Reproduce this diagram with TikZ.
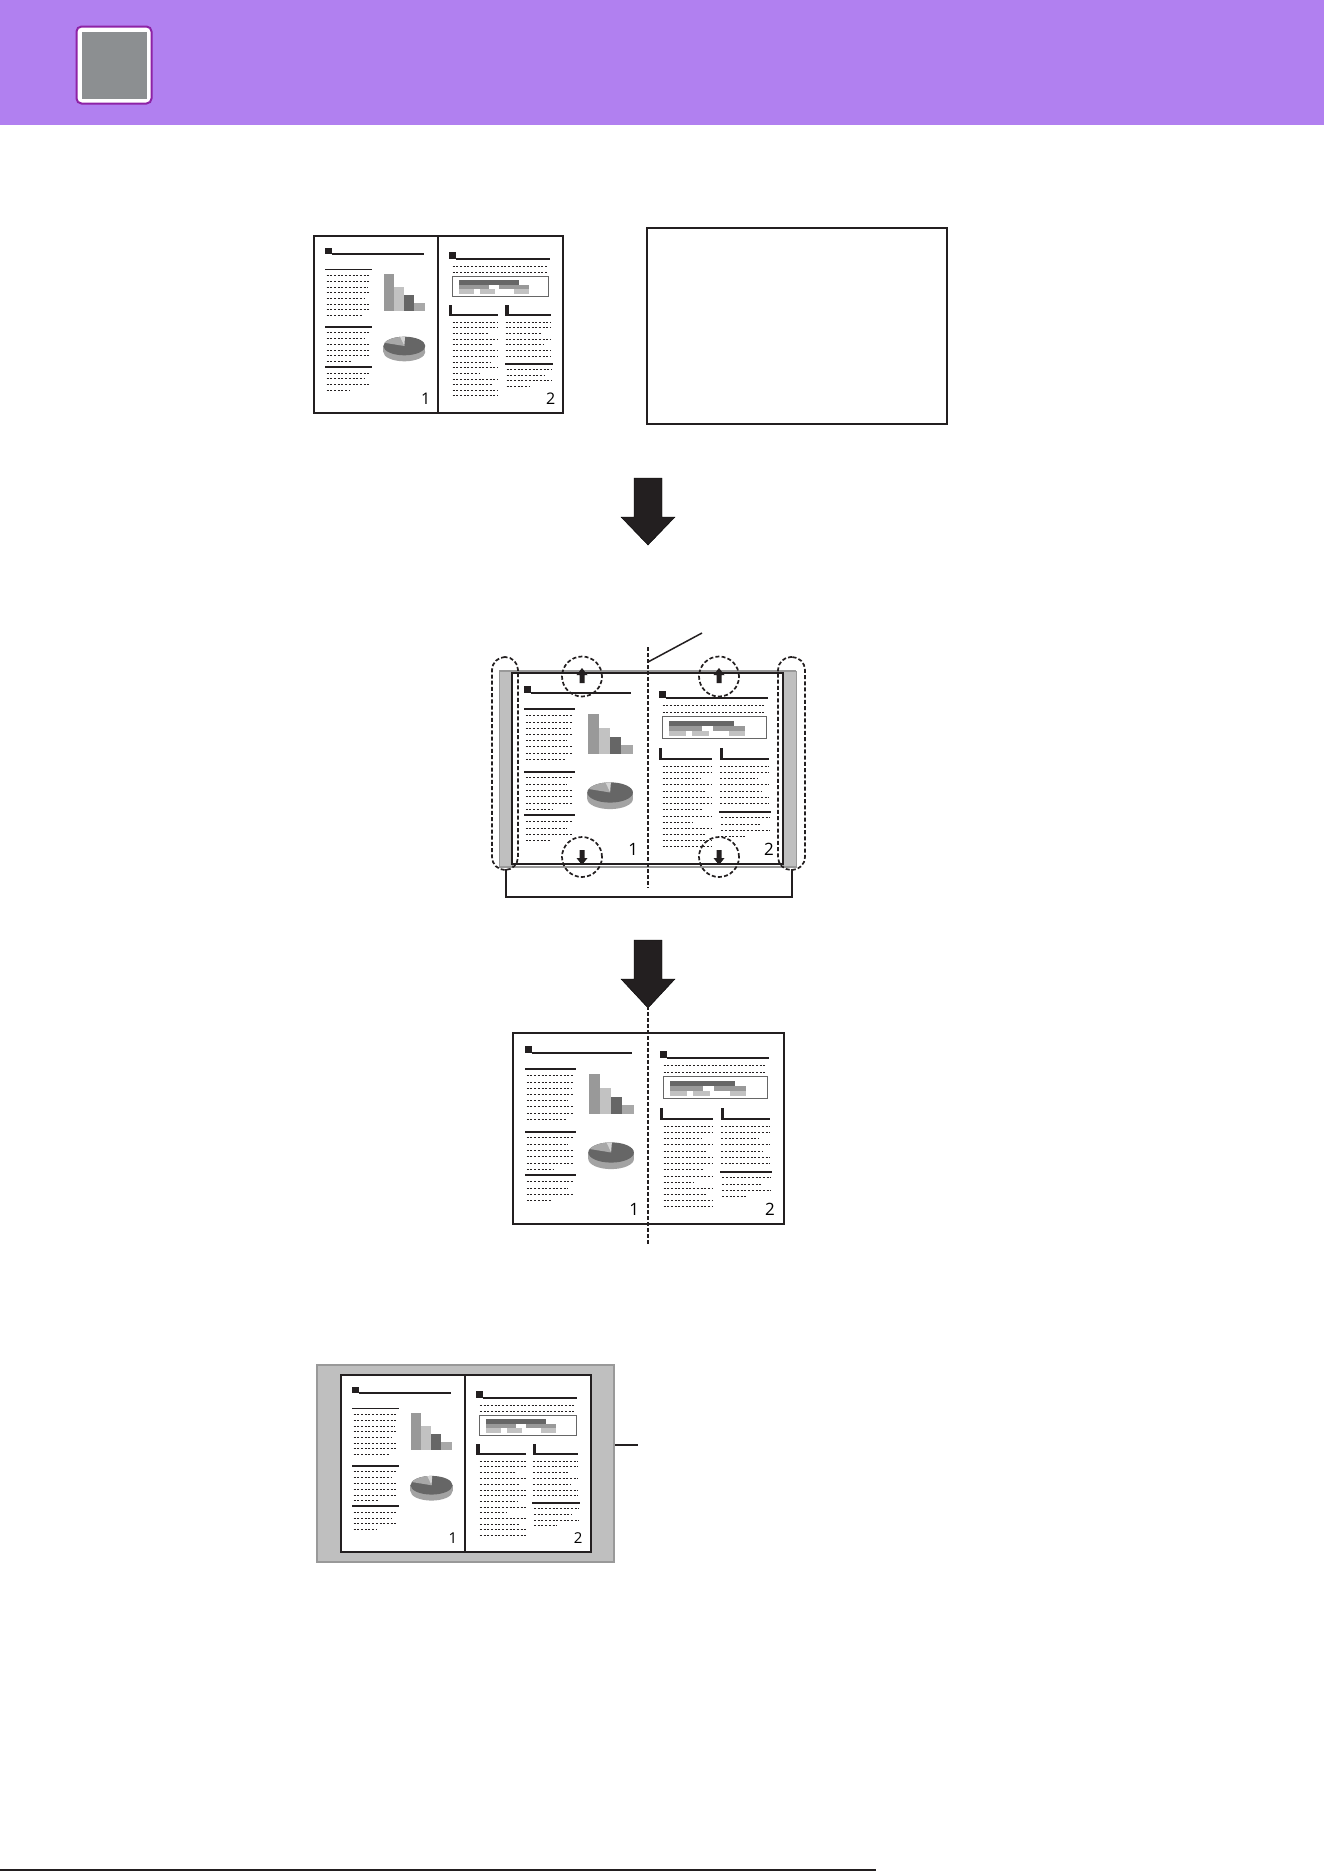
\documentclass[tikz,border=0pt]{standalone}
\usepackage{fontspec}
\newfontfamily\numfont{Open Sans}
\definecolor{hdr}{HTML}{B180F0}
\definecolor{iconb}{HTML}{8E22A6}
\definecolor{icong}{HTML}{8C8F91}
\definecolor{ink}{HTML}{231F20}
\definecolor{barA}{HTML}{999999}
\definecolor{barB}{HTML}{C2C2C2}
\definecolor{barC}{HTML}{666666}
\definecolor{barD}{HTML}{A8A8A8}
\definecolor{pieside}{HTML}{A3A3A3}
\definecolor{shadegray}{HTML}{BFBFBF}
\definecolor{shadeline}{HTML}{999999}
\tikzset{
  dotline/.style={ink, line width=0.75pt, dash pattern=on 2pt off 1.7pt},
  frame/.style={draw=ink, line width=1.7pt},
  cutline/.style={ink, line width=2pt, dash pattern=on 3.5pt off 2.5pt},
  dcirc/.style={draw=ink, line width=1.7pt, dash pattern=on 4pt off 2.2pt},
  bigarrow/.style={fill=ink},
  lead/.style={ink, line width=1.5pt}
}
\newcommand{\spreadcontent}[1]{%
  % ---- left page
  \fill[ink] (33,35) rectangle (53,55);
  \fill[ink] (53,52) rectangle (330,57);
  \fill[ink] (33,98) rectangle (174,103);
  \fill[ink] (33,270) rectangle (174,275);
  \fill[ink] (33,390) rectangle (174,395);
  \foreach \yy/\xe in {117/166,135/166,153/163,170/166,187/153,204/166,221/166,238/148,
                       289/166,307/153,324/166,342/166,359/166,376/113,
                       411/166,428/153,445/166,462/106}
    \draw[dotline] (38,\yy) -- (\xe,\yy);
  \fill[barA] (210,114) rectangle (240,224);
  \fill[barB] (240,153) rectangle (270,224);
  \fill[barC] (270,177) rectangle (300,224);
  \fill[barD] (300,200) rectangle (333,224);
  \fill[pieside] (271,348) ellipse[x radius=63, y radius=28];
  \fill[pieside] (208,330) rectangle (334,348);
  \fill[barC] (271,330) ellipse[x radius=63, y radius=28];
  \fill[barD] (271,330) -- ++(200:63 and 28) arc[start angle=200,end angle=258,x radius=63,y radius=28] -- cycle;
  \fill[barB!70!white] (271,330) -- ++(258:63 and 28) arc[start angle=258,end angle=272,x radius=63,y radius=28] -- cycle;
  \node[font=\numfont\fontsize{#1}{#1}\selectfont, inner sep=0pt] (pn1) at (335,487) {1};
  % ---- right page
  \fill[ink] (405,49) rectangle (425,69);
  \fill[ink] (425,66) rectangle (708,71);
  \draw[dotline] (416,90) -- (700,90);
  \draw[dotline] (416,109) -- (700,109);
  \fill[barC] (435,133) rectangle (614,146);
  \fill[barA] (435,146) rectangle (525,159);
  \fill[barA] (555,146) rectangle (645,159);
  \fill[barB] (435,159) rectangle (480,173);
  \fill[barB] (498,159) rectangle (543,173);
  \fill[barB] (600,159) rectangle (645,173);
  \draw[barC, line width=0.8pt] (415,121) rectangle (704,181);
  \fill[ink] (405,207) rectangle (415,239);
  \fill[ink] (405,234) rectangle (553,239);
  \fill[ink] (574,207) rectangle (584,239);
  \fill[ink] (574,234) rectangle (710,239);
  \foreach \yy/\xe in {258/553,275/553,292/521,309/553,326/533,344/553,361/553,
                       378/528,395/553,412/498,429/553,446/533,463/553,479/553}
    \draw[dotline] (416,\yy) -- (\xe,\yy);
  \foreach \yy/\xe in {258/710,275/710,292/680,309/710,326/690,344/710,361/710}
    \draw[dotline] (575,\yy) -- (\xe,\yy);
  \fill[ink] (572,381) rectangle (716,386);
  \foreach \yy/\xe in {399/712,417/690,434/712,451/645}
    \draw[dotline] (578,\yy) -- (\xe,\yy);
  \node[font=\numfont\fontsize{#1}{#1}\selectfont, inner sep=0pt] (pn2) at (710,487) {2};
}
\begin{document}
\begin{tikzpicture}[x=1pt,y=-1pt]
\useasboundingbox (0,0) rectangle (1324,1872);
% header
\fill[hdr] (0,0) rectangle (1324,125);
\node[draw=iconb, fill=white, line width=2pt, rounded corners=5pt, minimum width=75pt,
      minimum height=77pt, inner sep=0pt] (icon) at (114,65) {};
\fill[icong] (82,32) rectangle (147,99);

% ---------- top: original spread
\fill[white] (314,236) rectangle (563,413);
\begin{scope}[shift={(314,236)}, scale=0.3333]
  \spreadcontent{16}
\end{scope}
\node[frame, minimum width=249pt, minimum height=177pt, inner sep=0pt] (orig) at (438.5,324.5) {};
\draw[frame] (438,236) -- (438,413);
\node[frame, minimum width=300pt, minimum height=196pt, inner sep=0pt] (blank) at (797,326) {};

% big arrow 1
\draw[bigarrow] (634,478) -- (662,478) -- (662,517) -- (675,517) -- (648,545) -- (621,517) -- (634,517) -- cycle;

% ---------- middle: book
\filldraw[fill=shadegray, draw=shadeline, line width=1pt] (499,671) rectangle (512,867);
\filldraw[fill=shadegray, draw=shadeline, line width=1pt] (783,671) rectangle (796,867);
\draw[shadeline, line width=2pt] (499,670.5) -- (796,670.5);
\draw[shadeline, line width=2pt] (499,866.5) -- (796,866.5);
\fill[white] (512,673) rectangle (783,864);
\begin{scope}[shift={(512,673)}, scale=0.362]
  \spreadcontent{17}
\end{scope}
\node[frame, minimum width=271pt, minimum height=191pt, inner sep=0pt] (book) at (647.5,768.5) {};
\coordinate (cutTop) at (648,647);
\coordinate (cutBot) at (648,888);
\draw[cutline] (cutTop) -- (cutBot);
\coordinate (cutLead) at (648,662);
\coordinate (leadEnd) at (702,633);
\draw[lead] (cutLead) -- (leadEnd);
% dashed circles with small arrows
\foreach \nm/\cx in {ca/582, cb/719} {
  \node[dcirc, circle, minimum size=40pt, inner sep=0pt] (\nm) at (\cx,676.5) {};
  \fill[ink] (\cx,668) -- ++(5.5,7) -- ++(-3,0) -- ++(0,8) -- ++(-5,0) -- ++(0,-8) -- ++(-3,0) -- cycle;
}
\foreach \nm/\cx in {cc/582, cd/719} {
  \node[dcirc, circle, minimum size=40pt, inner sep=0pt] (\nm) at (\cx,857) {};
  \fill[ink] (\cx,865) -- ++(5.5,-7) -- ++(-3,0) -- ++(0,-8) -- ++(-5,0) -- ++(0,8) -- ++(-3,0) -- cycle;
}
% side stadiums
\node[dcirc, rounded corners=13pt, minimum width=26pt, minimum height=213pt, inner sep=0pt] (sl) at (505,763.5) {};
\node[dcirc, rounded corners=13pt, minimum width=27pt, minimum height=213pt, inner sep=0pt] (sr) at (791.5,763.5) {};
% bracket
\coordinate (bl) at (506,869);
\coordinate (br) at (792,869);
\draw[ink, line width=1.7pt] (bl) -- (506,897) -- (792,897) -- (br);

% big arrow 2
\draw[bigarrow] (634,940) -- (662,940) -- (662,979) -- (675,979) -- (648,1008) -- (621,979) -- (634,979) -- cycle;

% ---------- result
\fill[white] (513,1033) rectangle (784,1224);
\begin{scope}[shift={(513,1033)}, scale=0.362]
  \spreadcontent{17}
\end{scope}
\node[frame, minimum width=271pt, minimum height=191pt, inner sep=0pt] (res) at (648.5,1128.5) {};
\coordinate (cut2Top) at (648,1006);
\coordinate (cut2Bot) at (648,1245);
\draw[cutline] (cut2Top) -- (cut2Bot);

% ---------- bottom: shaded
\node[fill=shadegray, draw=shadeline, line width=2pt, minimum width=297pt, minimum height=197pt, inner sep=0pt] (shd) at (465.5,1463.5) {};
\fill[white] (341,1375) rectangle (591,1552);
\begin{scope}[shift={(341,1375)}, scale=0.334]
  \spreadcontent{15}
\end{scope}
\node[frame, minimum width=250pt, minimum height=177pt, inner sep=0pt] (inner) at (466,1463.5) {};
\draw[frame] (465,1375) -- (465,1552);
\coordinate (shdLead) at (638,1445);
\draw[lead] (shd.east |- shdLead) -- (shdLead);

% bottom rule
\coordinate (ruleL) at (0,1870);
\coordinate (ruleR) at (876,1870);
\draw[ink, line width=2pt] (ruleL) -- (ruleR);
\end{tikzpicture}
\end{document}
